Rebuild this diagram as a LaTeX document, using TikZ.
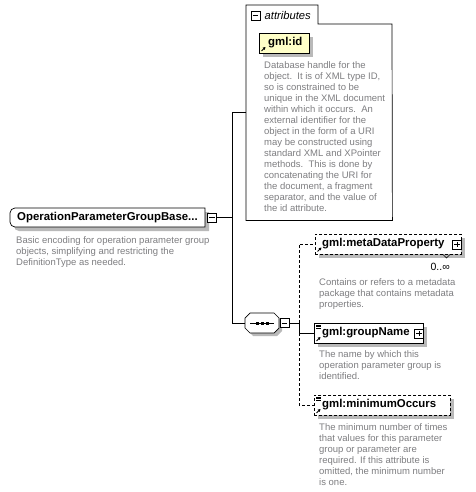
\documentclass[tikz,border=0pt]{standalone}
\usepackage{fontspec}
\setmainfont{Liberation Sans}
\usetikzlibrary{arrows.meta,shadows}
\definecolor{desctext}{RGB}{125,125,128}
\definecolor{shad}{RGB}{185,185,185}
\definecolor{idfill}{RGB}{255,255,200}
\begin{document}
\begin{tikzpicture}[x=1pt,y=-1pt,
  desc/.style={anchor=north west, inner sep=0pt, align=left, text=desctext, font=\fontsize{9.5}{11}\selectfont},
  nm/.style={anchor=west, inner sep=0pt, font=\fontsize{11.4}{13}\selectfont\bfseries},
  elbox/.style={draw, fill=white, line width=0.7pt, inner sep=0pt, anchor=north west, minimum height=20pt,
    drop shadow={shadow xshift=4pt, shadow yshift=-4pt, fill=shad, opacity=1}},
  dashbox/.style={dash pattern=on 3pt off 2pt},
  pmbox/.style={draw, fill=white, line width=0.6pt, inner sep=0pt, minimum size=9pt},
  conn/.style={line width=0.7pt},
  dconn/.style={line width=0.7pt, dash pattern=on 3pt off 2pt},
  refarrow/.style={line width=0.9pt, -{Triangle[length=2.6pt,width=2.8pt]}},
  sign/.style={line width=0.6pt}
]
\useasboundingbox (0,0) rectangle (475,492);

% ---------- attributes group ----------
\node[inner sep=0pt, minimum width=146pt, minimum height=215pt, anchor=north west] (attr) at (246,5) {};
\draw[line width=0.7pt] (attr.south west) -- (attr.north west) -- (318,5) -- (318,24) -- (392,24) -- (attr.south east) -- cycle;
\node[pmbox] (attrpm) at (255.5,15.5) {};
\draw[sign] ([xshift=2pt]attrpm.west) -- ([xshift=-2pt]attrpm.east);
\node[anchor=west, inner sep=0pt, font=\fontsize{11.2}{13}\selectfont\itshape] (attrT) at (264.5,15) {attributes};

\node[elbox, fill=idfill, minimum width=50pt] (gid) at (259,33) {};
\node[nm] (gidT) at (268,43) {gml:id};
\draw[refarrow] (261.5,51) -- (265.5,47);
\node[desc] (gidD) at (264,61) {Database handle for the\\
object.\ \ It is of XML type ID,\\
so is constrained to be\\
unique in the XML document\\
within which it occurs.\ \ An\\
external identifier for the\\
object in the form of a URI\\
may be constructed using\\
standard XML and XPointer\\
methods.\ \ This is done by\\
concatenating the URI for\\
the document, a fragment\\
separator, and the value of\\
the id attribute.};

% ---------- main element ----------
\node[inner sep=0pt, minimum width=195pt, minimum height=19pt, anchor=north west] (main) at (10,208) {};
\fill[shad] (209,212) -- (19,212) to[out=180,in=90] (14,217) -- (14,226) to[out=-90,in=180] (19,231) -- (209,231) -- cycle;
\draw[fill=white, line width=0.7pt] (205,208) -- (15,208) to[out=180,in=90] (10,213) -- (10,222) to[out=-90,in=180] (15,227) -- (205,227) -- cycle;
\node[nm] (mainT) at (17,217.5) {OperationParameterGroupBase...};
\node[pmbox] (mainpm) at (212,217.5) {};
\draw[sign] ([xshift=2pt]mainpm.west) -- ([xshift=-2pt]mainpm.east);
\node[desc] (mainD) at (16,236) {Basic encoding for operation parameter group\\
objects, simplifying and restricting the\\
DefinitionType as needed.};

% ---------- sequence ----------
\node[inner sep=0pt, minimum width=34pt, minimum height=20pt, anchor=north west] (seq) at (245,313) {};
\fill[shad] (253,316) -- (277,316) -- (282,321) -- (282,331) -- (277,336) -- (253,336) -- (248,331) -- (248,321) -- cycle;
\draw[fill=white, line width=0.7pt] (250,313) -- (274,313) -- (279,318) -- (279,328) -- (274,333) -- (250,333) -- (245,328) -- (245,318) -- cycle;
\draw[line width=0.8pt] (250,323) -- (274,323);
\fill (255.5,321.5) rectangle (258.5,324.5);
\fill (260.5,321.5) rectangle (263.5,324.5);
\fill (265.5,321.5) rectangle (268.5,324.5);
\node[pmbox] (seqpm) at (284.5,323) {};
\draw[sign] ([xshift=2pt]seqpm.west) -- ([xshift=-2pt]seqpm.east);

% ---------- children ----------
\node[elbox, dashbox, minimum width=146pt] (mdp) at (315,234) {};
\node[nm] (mdpT) at (322,244) {gml:metaDataProperty};
\draw[refarrow] (317.5,251.5) -- (321.5,247.5);
\node[pmbox, anchor=east] (mdppm) at (mdp.east) {};
\draw[sign] ([xshift=2pt]mdppm.west) -- ([xshift=-2pt]mdppm.east);
\draw[sign] ([yshift=-2pt]mdppm.north) -- ([yshift=2pt]mdppm.south);
\draw[line width=0.5pt] (443,254.5) -- (446.5,258) -- (450,254.5);
\node[anchor=east, inner sep=0pt, font=\fontsize{10.5}{12}\selectfont] (mdpM) at (450,267) {0..∞};
\node[desc] (mdpD) at (319,278) {Contains or refers to a metadata\\
package that contains metadata\\
properties.};

\node[elbox, minimum width=109pt] (gn) at (314,323) {};
\node[nm] (gnT) at (322,333) {gml:groupName};
\draw[refarrow] (316.5,341) -- (320.5,337);
\draw[sign] (316,324.8) -- (321,324.8) (316,326.4) -- (321,326.4) (316,328) -- (321,328);
\node[pmbox, anchor=east] (gnpm) at (gn.east) {};
\draw[sign] ([xshift=2pt]gnpm.west) -- ([xshift=-2pt]gnpm.east);
\draw[sign] ([yshift=-2pt]gnpm.north) -- ([yshift=2pt]gnpm.south);
\node[desc] (gnD) at (319,350) {The name by which this\\
operation parameter group is\\
identified.};

\node[elbox, dashbox, minimum width=136pt] (mo) at (314,395) {};
\node[nm] (moT) at (322,405) {gml:minimumOccurs};
\draw[refarrow] (316.5,413) -- (320.5,409);
\draw[sign] (316,396.8) -- (321,396.8) (316,398.4) -- (321,398.4) (316,400) -- (321,400);
\node[desc] (moD) at (319,423) {The minimum number of times\\
that values for this parameter\\
group or parameter are\\
required. If this attribute is\\
omitted, the minimum number\\
is one.};

% ---------- connectors ----------
\coordinate (jm) at (232,217.5);
\coordinate (jc) at (299,323);
\draw[conn] (mainpm.east) -- (jm);
\draw[conn] (attr.west) -| (jm |- seq.west) -- (seq.west);
\draw[conn] (seqpm.east) -- (jc);
\draw[dconn] (jc) |- (mdp.west);
\draw[conn] (jc) |- (gn.west);
\draw[dconn] (jc |- gn.west) |- (mo.west);
\end{tikzpicture}
\end{document}
